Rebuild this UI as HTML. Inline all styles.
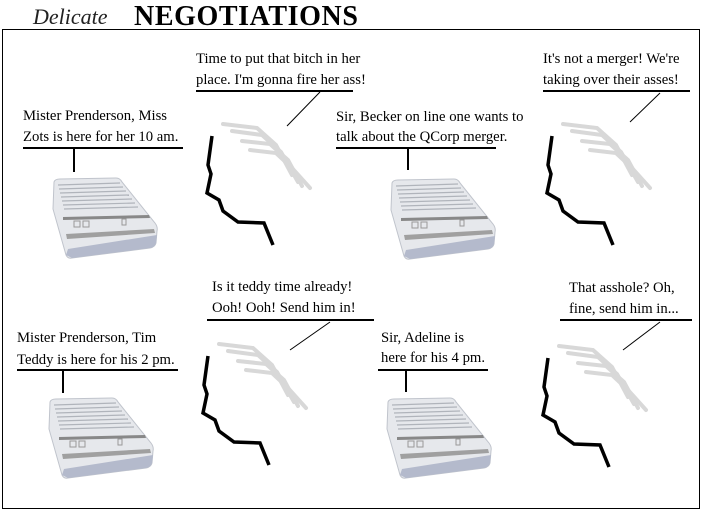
<!DOCTYPE html>
<html><head><meta charset="utf-8"><style>
html,body{margin:0;padding:0;background:#fff;}
svg{display:block;}
text{font-family:"Liberation Serif",serif;font-size:14.7px;fill:#000;}
</style></head><body>
<svg width="703" height="513" viewBox="0 0 703 513" xmlns="http://www.w3.org/2000/svg">
<defs>
<g id="ic">
  <path d="M2,3 Q3,0 8,0 L64,-1 Q68,-1 70,3 L103,44 Q106,48 105,52 L104,64 Q103,68 98,69 L20,79 Q16,80 14,76 L1,30 Z" fill="#e6e8ec" stroke="#c0c4cc" stroke-width="1"/>
  <path d="M14,76 L20,79 L98,69 Q103,68 104,64 L105,56 L16,70 Z" fill="#b4bacc"/>
  <g stroke="#b0b4bb" stroke-width="1.2">
    <line x1="6" y1="6" x2="68" y2="4"/><line x1="7" y1="10" x2="71" y2="8"/><line x1="8" y1="14" x2="74" y2="12"/>
    <line x1="9" y1="18" x2="77" y2="16"/><line x1="10" y1="22" x2="80" y2="20"/><line x1="11" y1="26" x2="83" y2="24"/>
    <line x1="12" y1="30" x2="86" y2="28"/>
  </g>
  <path d="M11,38 L97,36 L98,39 L11,41 Z" fill="#888"/>
  <path d="M14,55 L102,50 L103,54 L15,60 Z" fill="#a0a0a0"/>
  <rect x="22" y="42" width="6" height="6" fill="none" stroke="#999"/>
  <rect x="31" y="42" width="6" height="6" fill="none" stroke="#999"/>
  <rect x="70" y="40" width="4" height="6" fill="none" stroke="#999"/>
</g>
<g id="face">
  <polyline points="212,136 208,165 211,174 207,193 219,200 223,211 238,222 264,223 273,245" fill="none" stroke="#000" stroke-width="3.5"/>
  <g fill="none" stroke="#d8d8d8" stroke-width="4" stroke-linecap="round">
    <polyline points="223,124 257,128 276,145 292,175"/>
    <polyline points="232,131 262,135 281,152 298,182"/>
    <polyline points="242,141 270,144 288,160 302,186"/>
    <polyline points="250,150 276,153 292,168 310,188"/>
  </g>
</g>
</defs>
<rect x="2.5" y="29.5" width="697" height="479" fill="none" stroke="#000" stroke-width="1"/>
<text x="33" y="24" style="font-family:'Liberation Serif',serif;font-style:italic;font-size:22px;fill:#222">Delicate</text>
<text x="134" y="25" style="font-family:'Liberation Serif',serif;font-weight:bold;font-size:28px;letter-spacing:0.6px">NEGOTIATIONS</text>

<!-- P1 -->
<text x="23" y="120">Mister Prenderson, Miss</text>
<text x="23" y="141">Zots is here for her 10 am.</text>
<line x1="23" y1="148" x2="183" y2="148" stroke="#000" stroke-width="2"/>
<line x1="74" y1="148" x2="74" y2="172" stroke="#000" stroke-width="2"/>
<use href="#ic" x="52" y="179"/>
<!-- P2 -->
<text x="196" y="63">Time to put that bitch in her</text>
<text x="196" y="84">place. I'm gonna fire her ass!</text>
<line x1="196" y1="91" x2="353" y2="91" stroke="#000" stroke-width="2"/>
<line x1="320" y1="92" x2="287" y2="126" stroke="#000" stroke-width="1"/>
<use href="#face"/>
<!-- P3 -->
<text x="336" y="121">Sir, Becker on line one wants to</text>
<text x="336" y="141">talk about the QCorp merger.</text>
<line x1="336" y1="148" x2="496" y2="148" stroke="#000" stroke-width="2"/>
<line x1="408" y1="148" x2="408" y2="170" stroke="#000" stroke-width="2"/>
<use href="#ic" x="390" y="180"/>
<!-- P4 -->
<text x="543" y="63">It's not a merger! We're</text>
<text x="543" y="84">taking over their asses!</text>
<line x1="543" y1="91" x2="690" y2="91" stroke="#000" stroke-width="2"/>
<line x1="660" y1="93" x2="630" y2="122" stroke="#000" stroke-width="1"/>
<use href="#face" x="340" y="0"/>
<!-- P5 -->
<text x="17" y="342">Mister Prenderson, Tim</text>
<text x="17" y="364">Teddy is here for his 2 pm.</text>
<line x1="17" y1="370" x2="178" y2="370" stroke="#000" stroke-width="2"/>
<line x1="63" y1="370" x2="63" y2="393" stroke="#000" stroke-width="2"/>
<use href="#ic" x="48" y="399"/>
<!-- P6 -->
<text x="212" y="291">Is it teddy time already!</text>
<text x="212" y="312">Ooh! Ooh! Send him in!</text>
<line x1="207" y1="320" x2="374" y2="320" stroke="#000" stroke-width="2"/>
<line x1="330" y1="322" x2="290" y2="350" stroke="#000" stroke-width="1"/>
<use href="#face" x="-4" y="220"/>
<!-- P7 -->
<text x="381" y="342">Sir, Adeline is</text>
<text x="381" y="362">here for his 4 pm.</text>
<line x1="378" y1="370" x2="488" y2="370" stroke="#000" stroke-width="2"/>
<line x1="406" y1="370" x2="406" y2="392" stroke="#000" stroke-width="2"/>
<use href="#ic" x="386" y="399"/>
<!-- P8 -->
<text x="569" y="292">That asshole? Oh,</text>
<text x="569" y="313">fine, send him in...</text>
<line x1="560" y1="320" x2="692" y2="320" stroke="#000" stroke-width="2"/>
<line x1="660" y1="322" x2="623" y2="350" stroke="#000" stroke-width="1"/>
<use href="#face" x="336" y="222"/>
</svg>
</body></html>
